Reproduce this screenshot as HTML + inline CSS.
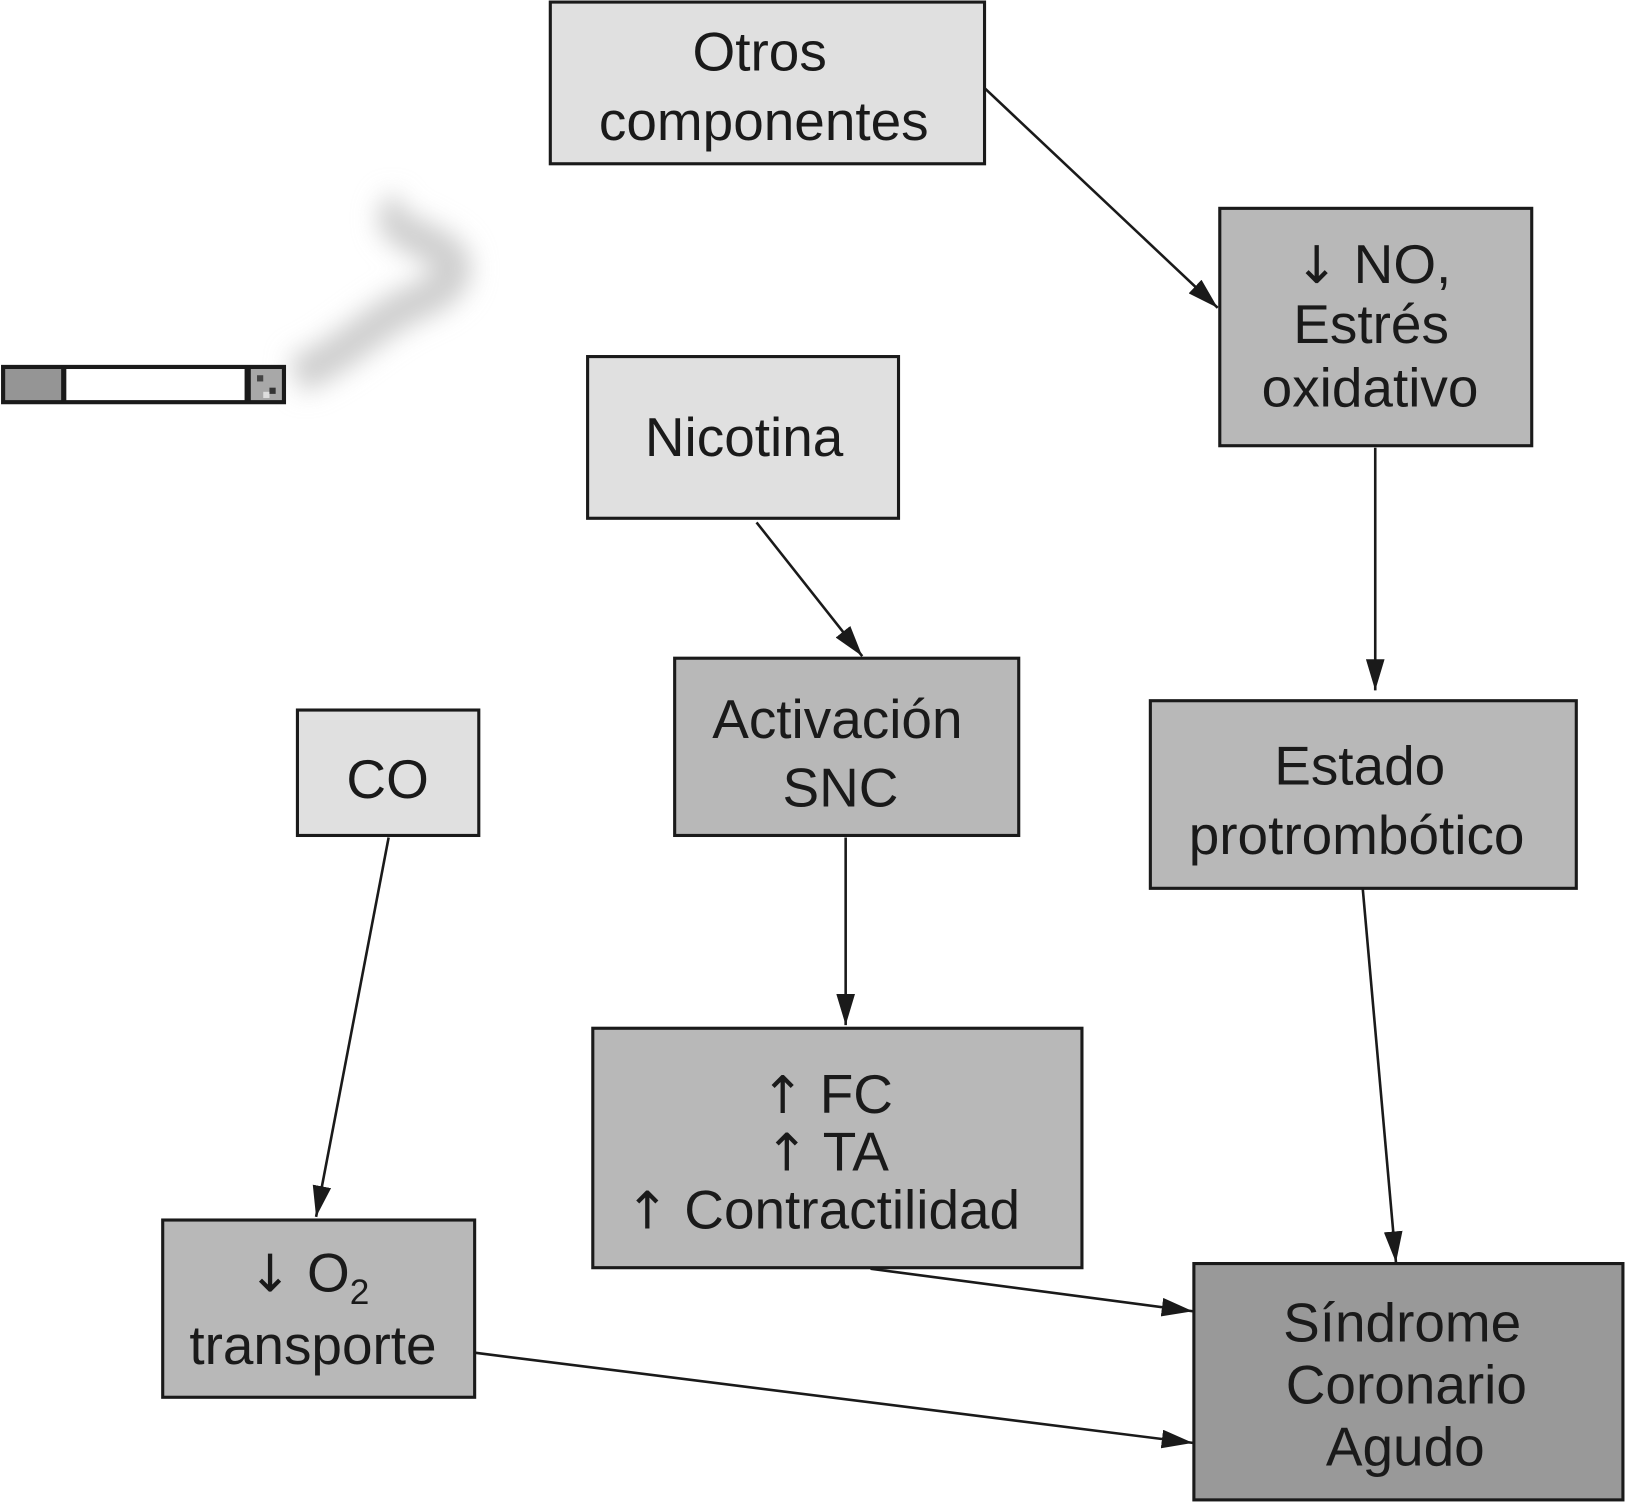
<!DOCTYPE html>
<html><head><style>
html,body{margin:0;padding:0;background:#fff;}
svg{display:block;}
text{font-family:"Liberation Sans",Arial,sans-serif;font-size:53px;fill:#1a1a1a;text-anchor:middle;}
.ar{font-family:"DejaVu Sans",sans-serif;font-size:50px;}
.b{stroke:#1a1a1a;stroke-width:3;}
.l{stroke:#1a1a1a;stroke-width:2.5;fill:none;marker-end:url(#a2);}
</style></head><body>
<svg width="1625" height="1503" viewBox="0 0 1568 1450" preserveAspectRatio="none">
<defs>
<marker id="a2" viewBox="0 0 10 10" refX="10" refY="5" markerWidth="30" markerHeight="18" markerUnits="userSpaceOnUse" orient="auto" preserveAspectRatio="none"><path d="M0,0 L10,5 L0,10 z" fill="#1a1a1a"/></marker>
<filter id="bl" x="-50%" y="-50%" width="200%" height="200%"><feGaussianBlur stdDeviation="12"/></filter>
</defs>
<path d="M285,362 C330,345 360,310 400,292 C445,275 445,250 420,238 C395,225 370,215 390,200" stroke="#cfcfcf" stroke-width="36" fill="none" filter="url(#bl)"/>
<rect x="1" y="352" width="275" height="38" fill="#1a1a1a"/>
<rect x="5" y="356" width="54" height="30" fill="#959595"/>
<rect x="64" y="356" width="172" height="30" fill="#fff"/>
<rect x="242" y="356" width="30" height="30" fill="#a8a8a8"/>
<rect x="248" y="362" width="6" height="6" fill="#444"/><rect x="260" y="374" width="6" height="6" fill="#333"/><rect x="254" y="378" width="6" height="6" fill="#ddd"/>
<rect class="b" x="531" y="2" width="419" height="156" fill="#e0e0e0"/>
<text x="733" y="68">Otros</text><text x="737" y="135">componentes</text>
<rect class="b" x="1177" y="201" width="301" height="229" fill="#b8b8b8"/>
<text x="1325" y="273"><tspan class="ar">↓</tspan> NO,</text><text x="1323" y="331">Estrés</text><text x="1322" y="392">oxidativo</text>
<rect class="b" x="567" y="344" width="300" height="156" fill="#e0e0e0"/>
<text x="718" y="440">Nicotina</text>
<rect class="b" x="651" y="635" width="332" height="171" fill="#b8b8b8"/>
<text x="808" y="712">Activación</text><text x="811" y="778">SNC</text>
<rect class="b" x="1110" y="676" width="411" height="181" fill="#b8b8b8"/>
<text x="1312" y="757">Estado</text><text x="1309" y="824">protrombótico</text>
<rect class="b" x="287" y="685" width="175" height="121" fill="#e0e0e0"/>
<text x="374" y="770">CO</text>
<rect class="b" x="572" y="992" width="472" height="231" fill="#b8b8b8"/>
<text x="798" y="1074"><tspan class="ar">↑</tspan> FC</text><text x="798" y="1129"><tspan class="ar">↑</tspan> TA</text><text x="794" y="1185"><tspan class="ar">↑</tspan> Contractilidad</text>
<rect class="b" x="157" y="1177" width="301" height="171" fill="#b8b8b8"/>
<text x="298" y="1246"><tspan class="ar">↓</tspan> O<tspan font-size="34" dy="12">2</tspan></text><text x="302" y="1316">transporte</text>
<rect class="b" x="1152" y="1219" width="414" height="228" fill="#999"/>
<text x="1353" y="1294">Síndrome</text><text x="1357" y="1354">Coronario</text><text x="1356" y="1414">Agudo</text>
<line class="l" x1="950" y1="85" x2="1175" y2="297"/>
<line class="l" x1="730" y1="504" x2="832" y2="633"/>
<line class="l" x1="1327" y1="432" x2="1327" y2="666"/>
<line class="l" x1="816" y1="808" x2="816" y2="989"/>
<line class="l" x1="375" y1="808" x2="305" y2="1174"/>
<line class="l" x1="1315" y1="858" x2="1347" y2="1218"/>
<line class="l" x1="840" y1="1224" x2="1151" y2="1265"/>
<line class="l" x1="458" y1="1305" x2="1151" y2="1392"/>
</svg>
</body></html>
